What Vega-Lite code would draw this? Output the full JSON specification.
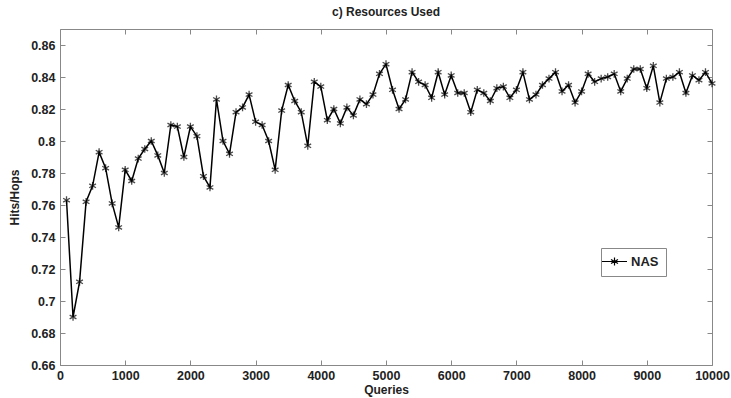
{
  "$schema": "https://vega.github.io/schema/vega-lite/v6.json",
  "width": 652,
  "height": 336,
  "autosize": {"type": "none"},
  "padding": {"left": 60, "top": 29, "right": 19, "bottom": 33},
  "background": "white",
  "title": {"text": "c) Resources Used", "font": "Liberation Sans", "fontSize": 12, "fontWeight": "bold", "color": "#222", "offset": 10, "anchor": "middle"},
  "config": {
    "view": {"stroke": "#888", "strokeWidth": 1},
    "axis": {"labelFont": "Liberation Sans", "labelFontWeight": "bold", "labelFontSize": 12.5, "labelColor": "#222", "titleFont": "Liberation Sans", "titleFontWeight": "bold", "titleFontSize": 12, "titleColor": "#222", "domainColor": "#888", "tickColor": "#888", "grid": false}
  },
  "data": {"values": [
    {"q":100,"v":0.763,"s":"NAS"},{"q":200,"v":0.690,"s":"NAS"},{"q":300,"v":0.712,"s":"NAS"},{"q":400,"v":0.762,"s":"NAS"},{"q":500,"v":0.772,"s":"NAS"},
    {"q":600,"v":0.793,"s":"NAS"},{"q":700,"v":0.783,"s":"NAS"},{"q":800,"v":0.761,"s":"NAS"},{"q":900,"v":0.746,"s":"NAS"},{"q":1000,"v":0.782,"s":"NAS"},
    {"q":1100,"v":0.775,"s":"NAS"},{"q":1200,"v":0.789,"s":"NAS"},{"q":1300,"v":0.795,"s":"NAS"},{"q":1400,"v":0.800,"s":"NAS"},{"q":1500,"v":0.791,"s":"NAS"},
    {"q":1600,"v":0.780,"s":"NAS"},{"q":1700,"v":0.810,"s":"NAS"},{"q":1800,"v":0.809,"s":"NAS"},{"q":1900,"v":0.790,"s":"NAS"},{"q":2000,"v":0.809,"s":"NAS"},
    {"q":2100,"v":0.803,"s":"NAS"},{"q":2200,"v":0.778,"s":"NAS"},{"q":2300,"v":0.771,"s":"NAS"},{"q":2400,"v":0.826,"s":"NAS"},{"q":2500,"v":0.800,"s":"NAS"},
    {"q":2600,"v":0.792,"s":"NAS"},{"q":2700,"v":0.818,"s":"NAS"},{"q":2800,"v":0.821,"s":"NAS"},{"q":2900,"v":0.829,"s":"NAS"},{"q":3000,"v":0.812,"s":"NAS"},
    {"q":3100,"v":0.810,"s":"NAS"},{"q":3200,"v":0.800,"s":"NAS"},{"q":3300,"v":0.782,"s":"NAS"},{"q":3400,"v":0.819,"s":"NAS"},{"q":3500,"v":0.835,"s":"NAS"},
    {"q":3600,"v":0.825,"s":"NAS"},{"q":3700,"v":0.818,"s":"NAS"},{"q":3800,"v":0.797,"s":"NAS"},{"q":3900,"v":0.837,"s":"NAS"},{"q":4000,"v":0.834,"s":"NAS"},
    {"q":4100,"v":0.813,"s":"NAS"},{"q":4200,"v":0.820,"s":"NAS"},{"q":4300,"v":0.811,"s":"NAS"},{"q":4400,"v":0.821,"s":"NAS"},{"q":4500,"v":0.816,"s":"NAS"},
    {"q":4600,"v":0.826,"s":"NAS"},{"q":4700,"v":0.823,"s":"NAS"},{"q":4800,"v":0.829,"s":"NAS"},{"q":4900,"v":0.842,"s":"NAS"},{"q":5000,"v":0.848,"s":"NAS"},
    {"q":5100,"v":0.832,"s":"NAS"},{"q":5200,"v":0.820,"s":"NAS"},{"q":5300,"v":0.826,"s":"NAS"},{"q":5400,"v":0.843,"s":"NAS"},{"q":5500,"v":0.837,"s":"NAS"},
    {"q":5600,"v":0.835,"s":"NAS"},{"q":5700,"v":0.827,"s":"NAS"},{"q":5800,"v":0.843,"s":"NAS"},{"q":5900,"v":0.829,"s":"NAS"},{"q":6000,"v":0.841,"s":"NAS"},
    {"q":6100,"v":0.830,"s":"NAS"},{"q":6200,"v":0.830,"s":"NAS"},{"q":6300,"v":0.818,"s":"NAS"},{"q":6400,"v":0.832,"s":"NAS"},{"q":6500,"v":0.830,"s":"NAS"},
    {"q":6600,"v":0.825,"s":"NAS"},{"q":6700,"v":0.833,"s":"NAS"},{"q":6800,"v":0.834,"s":"NAS"},{"q":6900,"v":0.827,"s":"NAS"},{"q":7000,"v":0.832,"s":"NAS"},
    {"q":7100,"v":0.843,"s":"NAS"},{"q":7200,"v":0.826,"s":"NAS"},{"q":7300,"v":0.829,"s":"NAS"},{"q":7400,"v":0.835,"s":"NAS"},{"q":7500,"v":0.839,"s":"NAS"},
    {"q":7600,"v":0.843,"s":"NAS"},{"q":7700,"v":0.831,"s":"NAS"},{"q":7800,"v":0.835,"s":"NAS"},{"q":7900,"v":0.824,"s":"NAS"},{"q":8000,"v":0.831,"s":"NAS"},
    {"q":8100,"v":0.842,"s":"NAS"},{"q":8200,"v":0.837,"s":"NAS"},{"q":8300,"v":0.839,"s":"NAS"},{"q":8400,"v":0.840,"s":"NAS"},{"q":8500,"v":0.842,"s":"NAS"},
    {"q":8600,"v":0.831,"s":"NAS"},{"q":8700,"v":0.839,"s":"NAS"},{"q":8800,"v":0.845,"s":"NAS"},{"q":8900,"v":0.845,"s":"NAS"},{"q":9000,"v":0.833,"s":"NAS"},
    {"q":9100,"v":0.847,"s":"NAS"},{"q":9200,"v":0.824,"s":"NAS"},{"q":9300,"v":0.839,"s":"NAS"},{"q":9400,"v":0.840,"s":"NAS"},{"q":9500,"v":0.843,"s":"NAS"},
    {"q":9600,"v":0.830,"s":"NAS"},{"q":9700,"v":0.841,"s":"NAS"},{"q":9800,"v":0.838,"s":"NAS"},{"q":9900,"v":0.843,"s":"NAS"},{"q":10000,"v":0.836,"s":"NAS"}
  ]},
  "resolve": {"axis": {"x": "independent", "y": "independent"}},
  "layer": [
    {
      "mark": {"type": "line", "strokeWidth": 1.5},
      "encoding": {
        "x": {"field": "q", "type": "quantitative", "scale": {"domain": [0, 10000], "nice": false}, "axis": {"title": "Queries", "values": [0,1000,2000,3000,4000,5000,6000,7000,8000,9000,10000], "format": "d", "tickSize": -5, "labelPadding": 9, "titlePadding": 3, "labelFlush": false}},
        "y": {"field": "v", "type": "quantitative", "scale": {"domain": [0.66, 0.87], "nice": false, "zero": false}, "axis": {"title": "Hits/Hops", "values": [0.66,0.68,0.7,0.72,0.74,0.76,0.78,0.8,0.82,0.84,0.86], "format": ".2~f", "tickSize": -5, "labelPadding": 10, "titlePadding": 9, "labelFlush": false}},
        "color": {"field": "s", "type": "nominal", "scale": {"domain": ["NAS"], "range": ["black"]}, "legend": {"title": null, "orient": "none", "legendX": 541, "legendY": 219, "symbolType": "M-2.5,0L2.5,0M0,-0.8L0,0.8M-0.7,-0.4L0.7,0.4M-0.7,0.4L0.7,-0.4", "symbolSize": 100, "symbolStrokeWidth": 1.2, "labelFont": "Liberation Sans", "labelFontWeight": "bold", "labelFontSize": 13, "labelColor": "#222", "strokeColor": "#888", "fillColor": "white", "padding": 7, "labelOffset": 10}}
      }
    },
    {
      "mark": {"type": "point", "shape": "M0,-1L0,1M-0.87,-0.5L0.87,0.5M-0.87,0.5L0.87,-0.5", "filled": false, "size": 60, "strokeWidth": 1.3},
      "encoding": {
        "x": {"field": "q", "type": "quantitative", "axis": {"orient": "top", "title": null, "labels": false, "domain": false, "values": [1000,2000,3000,4000,5000,6000,7000,8000,9000], "tickSize": -5}},
        "y": {"field": "v", "type": "quantitative", "axis": {"orient": "right", "title": null, "labels": false, "domain": false, "values": [0.68,0.7,0.72,0.74,0.76,0.78,0.8,0.82,0.84,0.86], "tickSize": -5}},
        "color": {"field": "s", "type": "nominal", "legend": null}
      }
    }
  ]
}
